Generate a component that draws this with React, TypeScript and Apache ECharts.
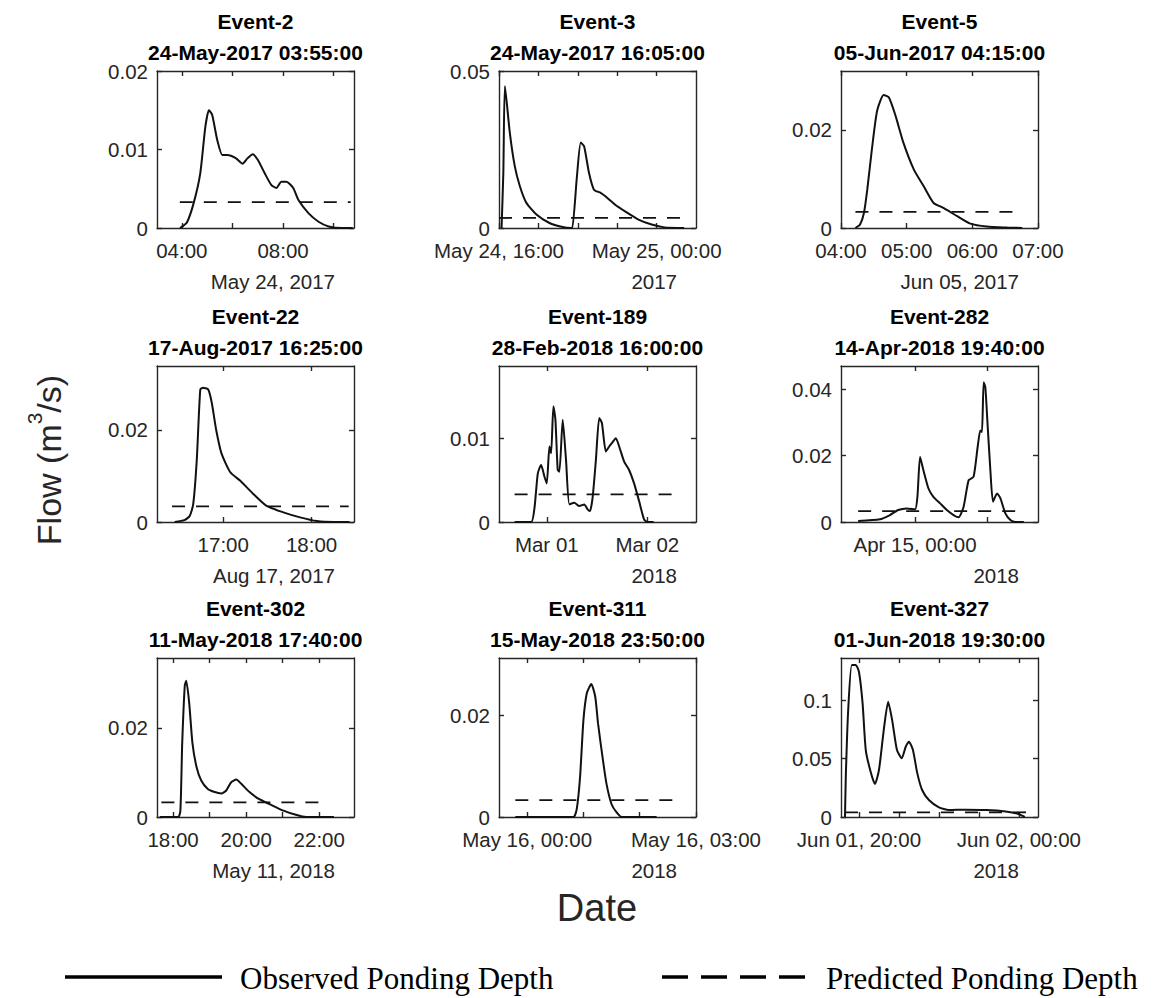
import { useEffect, useRef } from "react";
import * as echarts from "echarts";

// ---------- data (hours on x, flow m3/s on y) ----------
const eventNames = ["Event-2", "Event-3", "Event-5", "Event-22", "Event-189", "Event-282", "Event-302", "Event-311", "Event-327"];
const eventStamps = [
  "24-May-2017 03:55:00", "24-May-2017 16:05:00", "05-Jun-2017 04:15:00",
  "17-Aug-2017 16:25:00", "28-Feb-2018 16:00:00", "14-Apr-2018 19:40:00",
  "11-May-2018 17:40:00", "15-May-2018 23:50:00", "01-Jun-2018 19:30:00",
];
const dateSubLabels = ["May 24, 2017", "2017", "Jun 05, 2017", "Aug 17, 2017", "2018", "2018", "May 11, 2018", "2018", "2018"];

const obs2 = [[3.93,0],[4.2,0.0007],[4.47,0.0032],[4.73,0.007],[4.93,0.0129],[5.07,0.015],[5.2,0.0144],[5.4,0.0112],[5.6,0.0093],[5.8,0.0093],[6.13,0.0089],[6.4,0.0082],[6.6,0.0089],[6.8,0.0094],[7.0,0.0087],[7.27,0.007],[7.53,0.0055],[7.73,0.0051],[7.93,0.0059],[8.13,0.0059],[8.4,0.0051],[8.6,0.0036],[9.0,0.0019],[9.4,0.0008],[9.8,0.0002],[10.33,0],[10.75,0]];
const pred2 = [[3.92,0.0033],[10.67,0.0033]];

const obs3 = [[16.13,0],[16.22,0.0176],[16.3,0.0452],[16.55,0.0303],[16.8,0.0197],[17.06,0.0133],[17.39,0.008],[17.9,0.0043],[18.56,0.0016],[19.23,0.0003],[19.65,0],[19.72,0],[19.95,0.016],[20.15,0.0272],[20.32,0.026],[20.57,0.0175],[20.82,0.0122],[21.16,0.0112],[21.4,0.0101],[21.9,0.0074],[22.4,0.0053],[23.08,0.0027],[23.75,0.0011],[24.4,0.0002],[25.4,0]];
const pred3 = [[16.0,0.0032],[25.45,0.0032]];

const obs5 = [[4.22,0],[4.29,0.0007],[4.35,0.0031],[4.4,0.0078],[4.47,0.016],[4.55,0.0239],[4.65,0.0271],[4.73,0.0266],[4.83,0.0229],[4.95,0.0174],[5.11,0.0119],[5.26,0.0085],[5.41,0.0051],[5.56,0.0041],[5.77,0.0024],[5.97,0.0009],[6.22,0.0003],[6.53,0.0001],[6.76,0]];
const pred5 = [[4.22,0.0033],[6.77,0.0033]];

const obs22 = [[16.45,0],[16.56,0.0004],[16.62,0.0013],[16.66,0.0039],[16.7,0.0134],[16.74,0.0288],[16.77,0.0292],[16.83,0.0288],[16.87,0.0259],[16.92,0.02],[16.98,0.0149],[17.08,0.0108],[17.19,0.009],[17.34,0.0061],[17.49,0.0035],[17.68,0.0021],[17.87,0.001],[18.06,0.0002],[18.25,0],[18.43,0]];
const pred22 = [[16.42,0.0034],[18.42,0.0034]];

const obs189 = [[-7.68,0],[-3.72,0],[-2.93,0.0017],[-2.14,0.0058],[-1.35,0.0068],[-0.55,0.0054],[0,0.0046],[0.63,0.009],[1.03,0.0082],[1.58,0.0138],[2.06,0.0122],[2.61,0.0062],[3.01,0.006],[3.8,0.0122],[4.59,0.0074],[5.39,0.0021],[6.57,0.0023],[7.76,0.0019],[8.95,0.0021],[9.74,0.0015],[10.3,0.0013],[10.93,0.0029],[11.72,0.0074],[12.51,0.0124],[13.15,0.0118],[14.1,0.0084],[14.89,0.009],[15.68,0.0095],[16.48,0.01],[17.27,0.009],[18.46,0.0072],[19.64,0.0062],[20.83,0.0046],[22.02,0.0025],[23.21,0.0003],[24.0,0],[25.5,0]];
const pred189 = [[-7.68,0.0033],[30.73,0.0033]];

const obs282 = [[-4.74,0.0003],[-2.93,0.0008],[-2.09,0.0021],[-1.4,0.0036],[-0.7,0.0041],[0,0.0038],[0.2,0.0076],[0.42,0.0196],[0.7,0.0156],[1.12,0.0101],[1.53,0.0076],[2.09,0.0056],[2.65,0.0036],[3.21,0.0021],[3.63,0.0014],[4.05,0.0046],[4.47,0.0126],[4.88,0.0136],[5.22,0.0226],[5.44,0.0276],[5.58,0.0271],[5.72,0.0421],[5.86,0.0406],[6.06,0.0286],[6.28,0.0156],[6.5,0.0061],[6.84,0.0086],[7.12,0.0071],[7.53,0.0026],[7.95,0.0006],[8.37,0],[9.07,0]];
const pred282 = [[-4.74,0.0033],[9.07,0.0033]];

const obs302 = [[17.64,0],[18.14,0],[18.2,0.0014],[18.25,0.0166],[18.32,0.0295],[18.36,0.0306],[18.44,0.0257],[18.53,0.0166],[18.64,0.0113],[18.77,0.0082],[18.95,0.0063],[19.14,0.0056],[19.32,0.0053],[19.45,0.0059],[19.59,0.0078],[19.73,0.0084],[19.86,0.0075],[20.09,0.0056],[20.36,0.004],[20.64,0.0029],[21.0,0.0015],[21.36,0.0005],[21.64,0],[22.4,0]];
const pred302 = [[17.68,0.0033],[22.23,0.0033]];

const obs311 = [[-0.21,0],[0.82,0],[0.88,0.0015],[0.94,0.0078],[1.0,0.019],[1.06,0.0243],[1.14,0.0261],[1.21,0.0236],[1.26,0.0183],[1.34,0.0117],[1.41,0.0065],[1.5,0.0025],[1.59,0.0009],[1.68,0],[2.3,0]];
const pred311 = [[-0.21,0.0033],[2.59,0.0033]];

const obs327 = [[19.65,0],[19.67,0.0344],[19.73,0.0915],[19.82,0.13],[19.92,0.13],[20.0,0.124],[20.09,0.0974],[20.17,0.0573],[20.3,0.0376],[20.4,0.0282],[20.5,0.0402],[20.62,0.0744],[20.73,0.0986],[20.83,0.0829],[20.95,0.0573],[21.07,0.0502],[21.17,0.0601],[21.25,0.0644],[21.35,0.0573],[21.46,0.0373],[21.58,0.0231],[21.75,0.0145],[22.0,0.0083],[22.25,0.006],[22.67,0.0063],[23.17,0.006],[23.67,0.0048],[23.96,0.003],[24.15,0]];
const pred327 = [[19.65,0.004],[24.22,0.004]];

const observed = [obs2, obs3, obs5, obs22, obs189, obs282, obs302, obs311, obs327];
const predicted = [pred2, pred3, pred5, pred22, pred189, pred282, pred302, pred311, pred327];

// axis ranges and ticks
const xMins = [3.02, 16, 4, 16.25, -11.4, -6.17, 17.56, -0.5, 19.55];
const xMaxs = [10.8, 26, 7, 18.48, 35.6, 10.25, 22.95, 3.0, 24.48];
const xTickVals = [[4, 6, 8, 10], [16, 18, 20, 22, 24], [4, 5, 6, 7], [17, 18], [0, 24], [0, 6], [18, 19, 20, 21, 22], [0, 1, 2, 3], [20, 21, 22, 23, 24]];
const xLabelVals = [[4, 8], [16, 24], [4, 5, 6, 7], [17, 18], [0, 24], [0], [18, 20, 22], [0, 3], [20, 24]];
const xLabelTexts = [
  ["04:00", "08:00"], ["May 24, 16:00", "May 25, 00:00"], ["04:00", "05:00", "06:00", "07:00"],
  ["17:00", "18:00"], ["Mar 01", "Mar 02"], ["Apr 15, 00:00"],
  ["18:00", "20:00", "22:00"], ["May 16, 00:00", "May 16, 03:00"], ["Jun 01, 20:00", "Jun 02, 00:00"],
];
const yMaxs = [0.02, 0.05, 0.032, 0.0339, 0.0186, 0.047, 0.0357, 0.0312, 0.136];
const yTickVals = [[0, 0.01, 0.02], [0, 0.05], [0, 0.02], [0, 0.02], [0, 0.01], [0, 0.02, 0.04], [0, 0.02], [0, 0.02], [0, 0.05, 0.1]];

// ---------- layout ----------
const colLeft = [157, 499, 841];
const panelW = 197;
const rowTop = [71, 366, 658];
const rowH = [157, 156, 159];
const FONT = "Liberation Sans, Arial, Helvetica, sans-serif";
const SERIF = "Liberation Serif, Times New Roman, serif";
const AX = "#262626";

export default function App() {
  const ref = useRef<HTMLDivElement>(null);
  useEffect(() => {
    if (!ref.current) return;
    const chart = echarts.init(ref.current, undefined, { renderer: "svg" });
    const grids: any[] = [];
    const xAxes: any[] = [];
    const yAxes: any[] = [];
    const series: any[] = [];
    const graphics: any[] = [];
    const lineStyle = { color: AX, width: 1.4 };
    for (let i = 0; i < 9; i++) {
      const c = i % 3, r = Math.floor(i / 3);
      const left = colLeft[c], top = rowTop[r], h = rowH[r];
      grids.push({ left, top, width: panelW, height: h });
      const labVals = xLabelVals[i], labTxt = xLabelTexts[i];
      const fmtX = (v: number) => {
        for (let k = 0; k < labVals.length; k++) if (Math.abs(labVals[k] - v) < 1e-6) return labTxt[k];
        return "";
      };
      const base = { type: "value", gridIndex: i, min: xMins[i], max: xMaxs[i], splitLine: { show: false } };
      xAxes.push({
        ...base, position: "bottom",
        axisLine: { show: true, onZero: false, lineStyle },
        axisTick: { show: true, inside: true, length: 5, customValues: xTickVals[i], lineStyle },
        axisLabel: { show: true, customValues: labVals, formatter: fmtX, color: AX, fontSize: 20.5, fontFamily: FONT, margin: 12, hideOverlap: false },
      });
      xAxes.push({
        ...base, position: "top",
        axisLine: { show: true, onZero: false, lineStyle },
        axisTick: { show: true, inside: true, length: 5, customValues: xTickVals[i], lineStyle },
        axisLabel: { show: false },
      });
      const ybase = { type: "value", gridIndex: i, min: 0, max: yMaxs[i], splitLine: { show: false } };
      yAxes.push({
        ...ybase, position: "left",
        axisLine: { show: true, onZero: false, lineStyle },
        axisTick: { show: true, inside: true, length: 5, customValues: yTickVals[i], lineStyle },
        axisLabel: { show: true, customValues: yTickVals[i], formatter: (v: number) => String(v), color: AX, fontSize: 20.5, fontFamily: FONT, margin: 9 },
      });
      yAxes.push({
        ...ybase, position: "right",
        axisLine: { show: true, onZero: false, lineStyle },
        axisTick: { show: true, inside: true, length: 5, customValues: yTickVals[i], lineStyle },
        axisLabel: { show: false },
      });
      series.push({
        type: "line", xAxisIndex: 2 * i, yAxisIndex: 2 * i, data: observed[i],
        showSymbol: false, smooth: 0.2, lineStyle: { color: "#111", width: 2 }, silent: true,
      });
      series.push({
        type: "line", xAxisIndex: 2 * i, yAxisIndex: 2 * i, data: predicted[i],
        showSymbol: false, lineStyle: { color: "#111", width: 1.8, type: [13, 11] }, silent: true,
      });
      const cx = left + panelW / 2;
      graphics.push({ type: "text", x: cx, y: top - 50, style: { text: eventNames[i], fontSize: 21, fontWeight: "bold", fontFamily: FONT, fill: "#000", align: "center", verticalAlign: "middle" } });
      graphics.push({ type: "text", x: cx, y: top - 18.5, style: { text: eventStamps[i], fontSize: 21, fontWeight: "bold", fontFamily: FONT, fill: "#000", align: "center", verticalAlign: "middle" } });
      graphics.push({ type: "text", x: left + panelW - 19, y: top + h + 53, style: { text: dateSubLabels[i], fontSize: 20.5, fontFamily: FONT, fill: AX, align: "right", verticalAlign: "middle" } });
    }
    // axis titles
    graphics.push({
      type: "text", x: 45, y: 460, rotation: Math.PI / 2,
      style: {
        text: "{a|Flow (m}{b|3}{a|/s)}", align: "center", verticalAlign: "middle",
        rich: {
          a: { fontSize: 34, fontFamily: FONT, fill: AX, lineHeight: 42, verticalAlign: "bottom" },
          b: { fontSize: 21, fontFamily: FONT, fill: AX, lineHeight: 42, verticalAlign: "top" },
        },
      },
    });
    graphics.push({ type: "text", x: 597, y: 908, style: { text: "Date", fontSize: 38, fontFamily: FONT, fill: AX, align: "center", verticalAlign: "middle" } });
    // legend
    graphics.push({ type: "line", shape: { x1: 65, y1: 977, x2: 222, y2: 977 }, style: { stroke: "#000", lineWidth: 3.5 } });
    graphics.push({ type: "text", x: 240, y: 978, style: { text: "Observed Ponding Depth", fontSize: 31, fontFamily: SERIF, fill: "#000", align: "left", verticalAlign: "middle" } });
    graphics.push({ type: "line", shape: { x1: 662, y1: 977, x2: 806, y2: 977 }, style: { stroke: "#000", lineWidth: 3.5, lineDash: [26, 13] } });
    graphics.push({ type: "text", x: 826, y: 978, style: { text: "Predicted Ponding Depth", fontSize: 31, fontFamily: SERIF, fill: "#000", align: "left", verticalAlign: "middle" } });

    chart.setOption({
      animation: false,
      backgroundColor: "#fff",
      grid: grids,
      xAxis: xAxes,
      yAxis: yAxes,
      series,
      graphic: graphics,
    });
    return () => chart.dispose();
  }, []);
  return <div ref={ref} style={{ position: "fixed", left: 0, top: 0, width: 1161, height: 998 }} />;
}
